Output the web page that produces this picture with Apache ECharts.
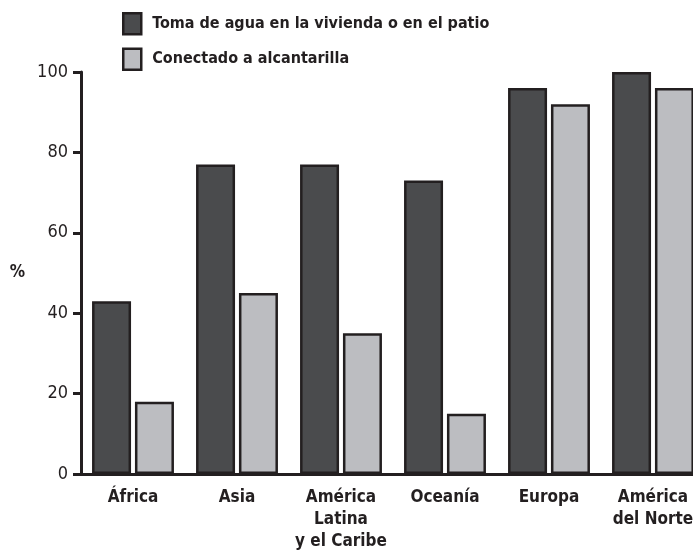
<!DOCTYPE html>
<html>
<head>
<meta charset="utf-8">
<script src="https://cdn.jsdelivr.net/npm/echarts@6/dist/echarts.min.js"></script>
<style>
html,body{margin:0;padding:0;background:#fff;}
#chart{width:693px;height:558px;}
</style>
</head>
<body>
<div id="chart"></div>
<script>
const categories = ['África', 'Asia', 'América\nLatina\ny el Caribe', 'Oceanía', 'Europa', 'América\ndel Norte'];
const seriesNames = ['Toma de agua en la vivienda o en el patio', 'Conectado a alcantarilla'];
const aguaValues = [43, 77, 77, 73, 96, 100];
const alcantarillaValues = [18, 45, 35, 15, 92, 96];
const yTicks = [0, 20, 40, 60, 80, 100];

const FONT = '"DejaVu Sans Condensed", "Liberation Sans Narrow", sans-serif';
const chart = echarts.init(document.getElementById('chart'), null, {renderer: 'canvas'});
chart.setOption({
  animation: false,
  backgroundColor: '#ffffff',
  legend: {
    orient: 'vertical',
    left: 122,
    top: 12,
    padding: 0,
    itemWidth: 18,
    itemHeight: 21,
    itemGap: 12,
    icon: 'rect',
    itemStyle: {borderColor: '#231f20', borderWidth: 2.5},
    textStyle: {fontFamily: FONT, fontWeight: 'bold', fontSize: 16, color: '#231f20', padding: [0, 0, 0, 6]},
    data: seriesNames
  },
  grid: {left: 81, width: 624, top: 72, bottom: 84, containLabel: false, outerBoundsMode: 'none'},
  xAxis: {
    type: 'category',
    data: categories,
    axisLine: {lineStyle: {color: '#231f20', width: 3}},
    axisTick: {show: false},
    axisLabel: {interval: 0, fontFamily: FONT, fontWeight: 'bold', fontSize: 17, color: '#231f20', margin: 13, lineHeight: 22}
  },
  yAxis: {
    type: 'value',
    min: yTicks[0],
    max: yTicks[yTicks.length - 1],
    interval: 20,
    name: '%',
    nameLocation: 'middle',
    nameRotate: 0,
    nameGap: 56,
    nameTextStyle: {fontFamily: FONT, fontWeight: 'bold', fontSize: 17, color: '#231f20'},
    splitLine: {show: false},
    axisLine: {show: true, lineStyle: {color: '#231f20', width: 3}},
    axisTick: {show: true, length: 8, lineStyle: {color: '#231f20', width: 3}},
    axisLabel: {fontFamily: FONT, fontSize: 18, color: '#231f20', margin: 13}
  },
  series: [
    {
      name: seriesNames[0], type: 'bar', data: aguaValues,
      barWidth: 39, barGap: '10%',
      itemStyle: {color: '#4a4b4d', borderColor: '#231f20', borderWidth: 2.5}
    },
    {
      name: seriesNames[1], type: 'bar', data: alcantarillaValues,
      barWidth: 39, barGap: '10%',
      itemStyle: {color: '#bcbdc1', borderColor: '#231f20', borderWidth: 2.5}
    }
  ]
});
</script>
</body>
</html>
